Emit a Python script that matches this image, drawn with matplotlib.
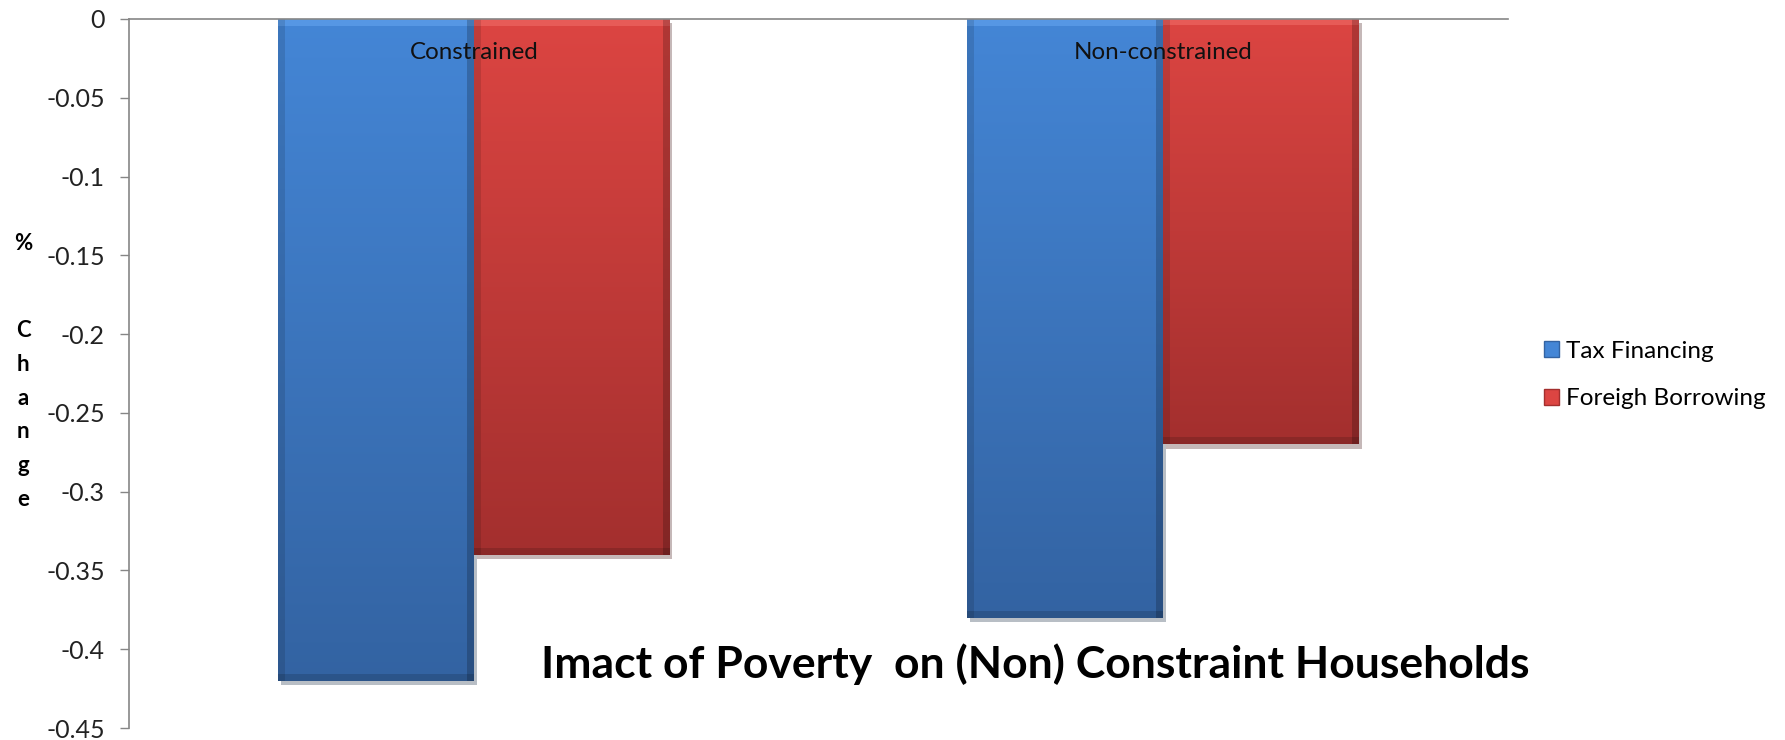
import numpy as np
import matplotlib.pyplot as plt
import matplotlib.patheffects as pe
from matplotlib.patches import Patch
from matplotlib.colors import to_rgb

# values
categories = ['Constrained', 'Non-constrained']
series_names = ['Tax Financing', 'Foreigh Borrowing']
tax_financing = [-0.42, -0.38]
foreign_borrowing = [-0.34, -0.27]
y_ticks = [0, -0.05, -0.1, -0.15, -0.2, -0.25, -0.3, -0.35, -0.4, -0.45]
y_ticklabels = ['0', '-0.05', '-0.1', '-0.15', '-0.2', '-0.25', '-0.3', '-0.35', '-0.4', '-0.45']
title = 'Imact of Poverty  on (Non) Constraint Households'

# top / bottom / highlight colours of the bevelled bars
blue = ('#4486d6', '#3363a2', '#63a4ee')
red = ('#dc4542', '#a32f2e', '#f06a66')

fig = plt.figure(figsize=(17.85, 7.40), dpi=100)
ax = fig.add_axes([129 / 1785, 1 - 728 / 740, (1508 - 129) / 1785, (728 - 19) / 740])

x = np.arange(len(categories))
w = 0.284
shadow = [pe.SimplePatchShadow(offset=(2, -3), alpha=0.3), pe.Normal()]
b1 = ax.bar(x - w / 2, tax_financing, w, color=blue[0], path_effects=shadow, zorder=2)
b2 = ax.bar(x + w / 2, foreign_borrowing, w, color=red[0], path_effects=shadow, zorder=2)


def shade(bar, cols):
    top, bot, hi = (np.array(to_rgb(c)) for c in cols)
    x0, w0 = bar.get_x(), bar.get_width()
    h0 = bar.get_height()
    nr = max(int(abs(h0) / 0.45 * 709), 2)
    nc = 196
    t = np.linspace(0, 1, nr)[:, None, None]  # 0 = bottom, 1 = top
    img = bot + (top - bot) * t
    img = np.repeat(img, nc, axis=1)
    bev = 7
    img[-bev:, :, :] = hi * 0.6 + img[-bev:, :, :] * 0.4
    img[:bev, :, :] *= 0.85
    img[:, :bev, :] *= 0.88
    img[:, -bev:, :] *= 0.8
    im = ax.imshow(img, origin='lower', aspect='auto', zorder=3,
                   extent=[x0, x0 + w0, min(0, h0), max(0, h0)])
    im.set_clip_path(bar)


for bar in b1:
    shade(bar, blue)
for bar in b2:
    shade(bar, red)

ax.set_xlim(-0.5, 1.5)
ax.set_ylim(-0.45, 0)

for xi, cat in zip(x, categories):
    ax.text(xi, -0.021, cat, ha='center', va='center', fontsize=17.4,
            family='Lato', color='#111111', zorder=5)

ax.set_yticks(y_ticks)
ax.set_yticklabels(y_ticklabels, family='Lato', fontsize=18)
ax.tick_params(axis='y', direction='out', length=6.5, width=1, color='#868686',
               labelcolor='#222222', pad=10.8)
ax.set_xticks([])
for s in ['right', 'bottom']:
    ax.spines[s].set_visible(False)
for s in ['left', 'top']:
    ax.spines[s].set_color('#868686')
    ax.spines[s].set_linewidth(1.2)
    ax.spines[s].set_zorder(6)

# vertical axis title, one letter per line
fig.text(23 / 1785, 1 - 243 / 740, '%', ha='center', va='center',
         fontsize=16, fontweight='bold', family='Lato')
fig.text(23 / 1785, 1 - 415 / 740, '\n'.join('Change'), ha='center', va='center',
         fontsize=16, fontweight='bold', family='Lato', linespacing=1.76)

fig.text(1035 / 1785, 1 - 664 / 740, title, ha='center', va='center',
         fontsize=32, fontweight='bold', family='Lato')

handles = [Patch(facecolor=blue[0], edgecolor=blue[1]),
           Patch(facecolor=red[0], edgecolor=red[1])]
fig.legend(handles, series_names, loc='center left',
           bbox_to_anchor=(1544 / 1785, 1 - 375 / 740), frameon=False,
           prop={'family': 'Lato', 'size': 17.5}, handlelength=0.6, handleheight=0.6,
           handletextpad=0.3, labelspacing=1.1, borderpad=0, borderaxespad=0)

fig.savefig('out.png', dpi=100)
